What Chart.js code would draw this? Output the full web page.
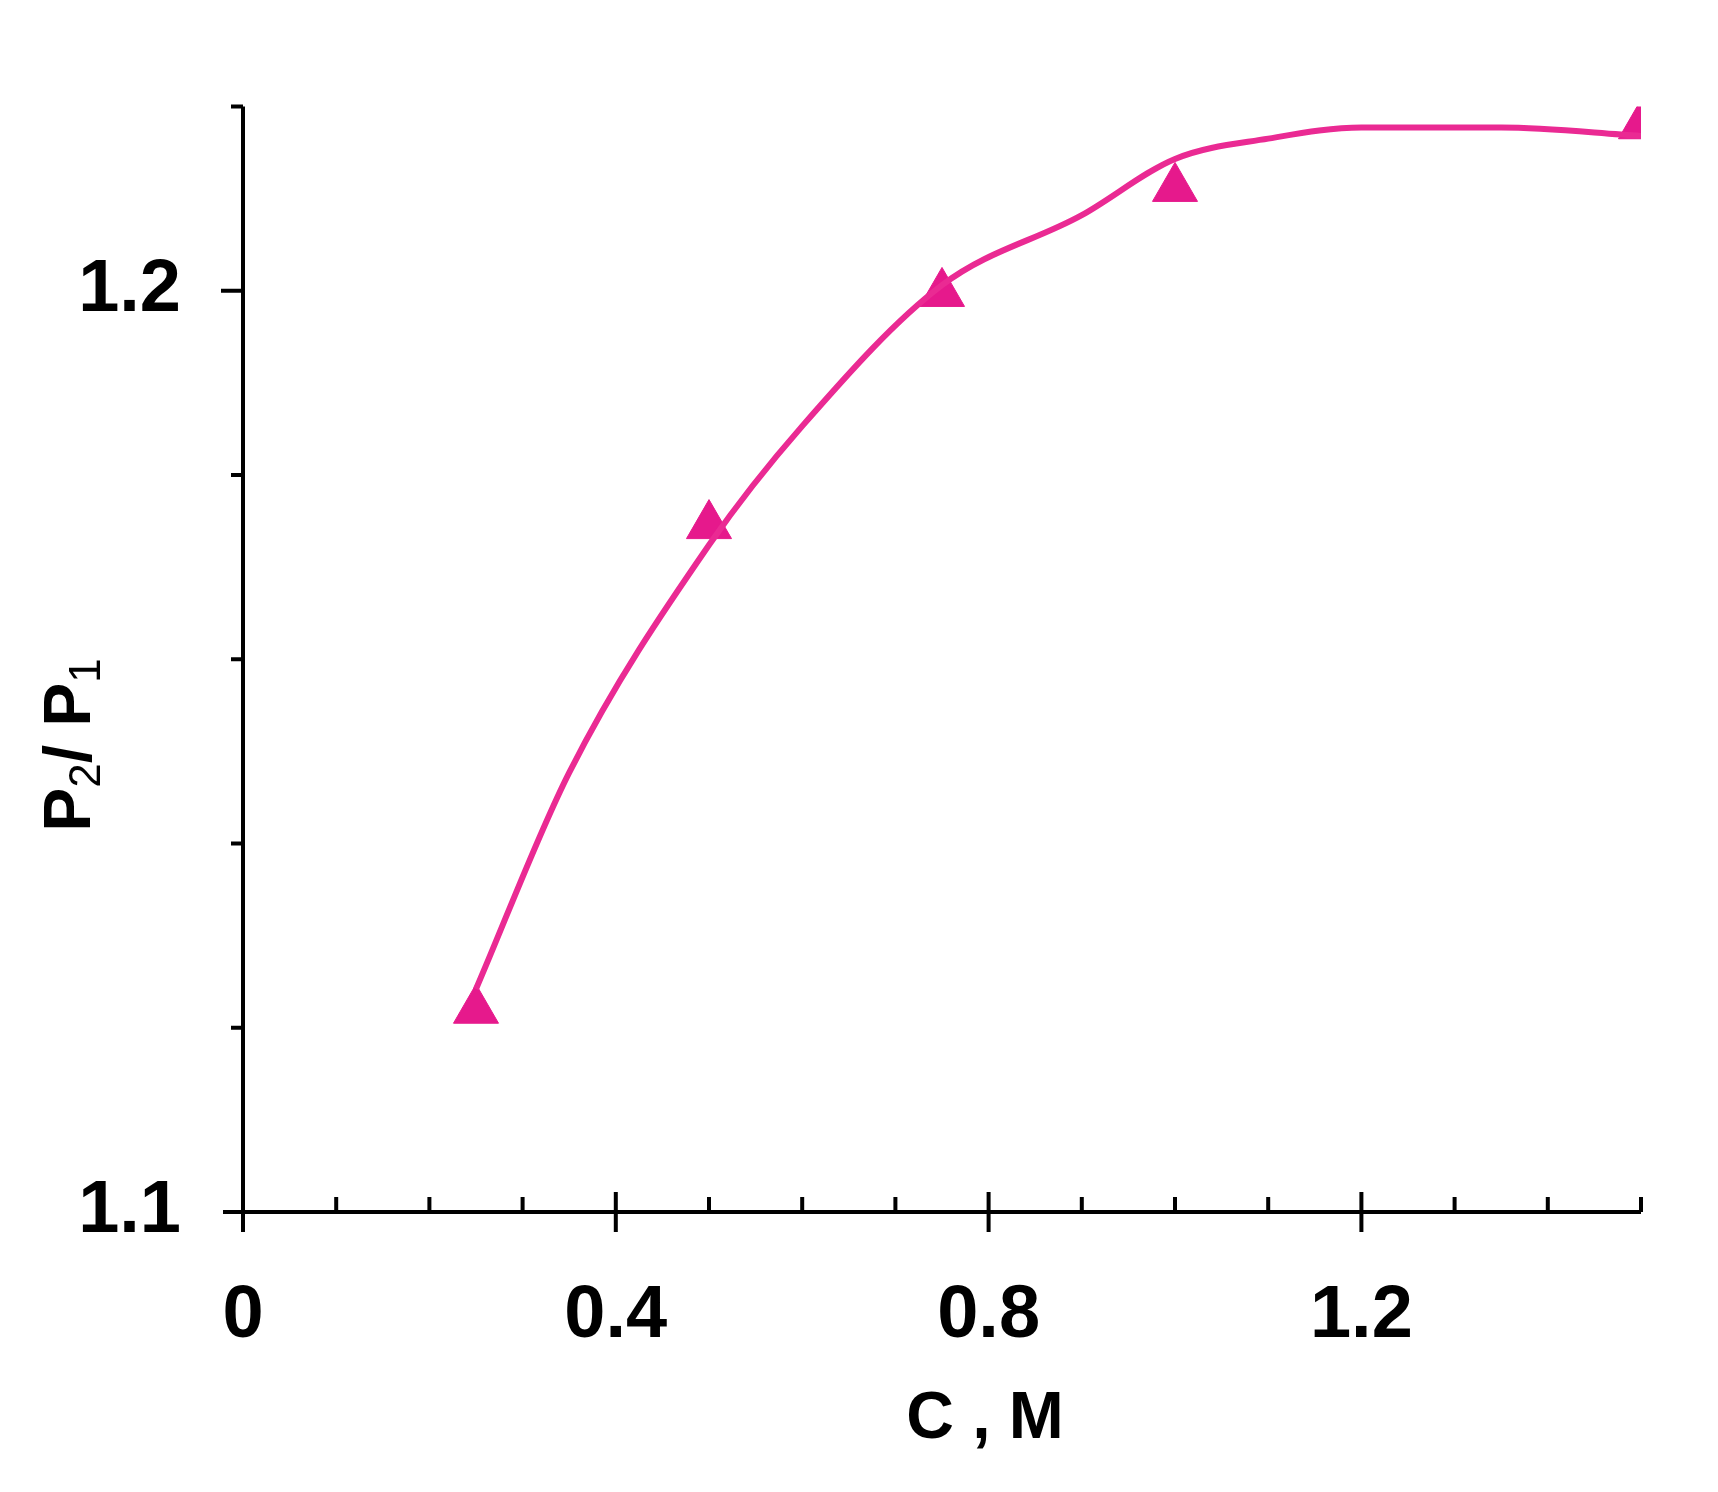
<!DOCTYPE html>
<html>
<head>
<meta charset="utf-8">
<script src="https://cdn.jsdelivr.net/npm/chart.js@4/dist/chart.umd.min.js"></script>
<style>
  html, body { margin: 0; padding: 0; background: #fff; }
  #wrap { width: 1718px; height: 1492px; }
</style>
</head>
<body>
<div id="wrap"><canvas id="chart"></canvas></div>
<script>
// measured points
const concX = [0.25, 0.5, 0.75, 1.0, 1.5];
const ratioY = [1.1219, 1.1745, 1.1997, 1.2111, 1.2179];
// fitted curve
const fitX = [0.25, 0.35, 0.5, 0.6, 0.75, 0.9, 1.0, 1.1, 1.2, 1.35, 1.5];
const fitY = [1.1242, 1.1477, 1.1724, 1.1853, 1.2006, 1.2082, 1.2143, 1.2165, 1.2177, 1.2177, 1.2168];
const xLabels = { 0: '0', 0.4: '0.4', 0.8: '0.8', 1.2: '1.2' };
const yLabels = { 1.1: '1.1', 1.2: '1.2' };

const pink = '#ea2a93';
const font = 'bold 74px "Liberation Sans", Arial, sans-serif';

const tickPlugin = {
  id: 'ticksAndTitles',
  afterDraw: (chart) => {
    const ctx = chart.ctx;
    const xs = chart.scales.x, ys = chart.scales.y;
    const x0 = xs.getPixelForValue(0), y0 = ys.getPixelForValue(1.1);
    ctx.save();
    ctx.strokeStyle = '#000';
    ctx.lineWidth = 4;
    ctx.beginPath();
    // axes
    ctx.moveTo(x0 - 20, y0); ctx.lineTo(xs.getPixelForValue(1.5), y0);
    ctx.moveTo(x0, ys.getPixelForValue(1.22)); ctx.lineTo(x0, y0 + 20);
    for (let i = 1; i <= 15; i++) {
      const px = xs.getPixelForValue(i / 10);
      if (i % 4 === 0) { ctx.moveTo(px, y0 - 20); ctx.lineTo(px, y0 + 20); }
      else { ctx.moveTo(px, y0 - 15); ctx.lineTo(px, y0); }
    }
    for (let i = 1; i <= 6; i++) {
      const py = ys.getPixelForValue(1.1 + i * 0.02);
      if (i === 5) { ctx.moveTo(x0 - 22, py); ctx.lineTo(x0, py); }
      else { ctx.moveTo(x0 - 12, py); ctx.lineTo(x0, py); }
    }
    ctx.stroke();

    ctx.fillStyle = '#000';
    ctx.font = 'bold 66px "Liberation Sans", Arial, sans-serif';
    ctx.textAlign = 'center';
    ctx.textBaseline = 'middle';
    ctx.fillText('C , M', 985, 1420);

    // y title with subscripts
    ctx.translate(72, 745);
    ctx.rotate(-Math.PI / 2);
    const big = 'bold 66px "Liberation Sans", Arial, sans-serif';
    const small = '44px "Liberation Sans", Arial, sans-serif';
    const parts = [['P', big, 0], ['2', small, 16], ['/ P', big, 0], ['1', small, 16]];
    let w = 0;
    parts.forEach(p => { ctx.font = p[1]; w += ctx.measureText(p[0]).width; });
    let cx = -w / 2;
    ctx.textAlign = 'left';
    parts.forEach(p => { ctx.font = p[1]; ctx.fillText(p[0], cx, p[2]); cx += ctx.measureText(p[0]).width; });
    ctx.restore();
  }
};

new Chart(document.getElementById('chart'), {
  type: 'scatter',
  data: {
    datasets: [{
      data: fitX.map((x, i) => ({ x: x, y: fitY[i] })),
      showLine: true,
      borderColor: pink,
      borderWidth: 6,
      pointRadius: 0,
      cubicInterpolationMode: 'monotone'
    }, {
      data: concX.map((x, i) => ({ x: x, y: ratioY[i] })),
      pointStyle: 'triangle',
      pointRadius: 26,
      backgroundColor: '#e6198c',
      borderColor: '#e6198c',
      borderWidth: 1
    }]
  },
  options: {
    responsive: true,
    maintainAspectRatio: false,
    animation: false,
    layout: { padding: { top: 94, right: 77, left: 0, bottom: 0 } },
    plugins: { legend: { display: false }, tooltip: { enabled: false } },
    scales: {
      x: {
        type: 'linear', min: 0, max: 1.5,
        grid: { display: false, drawTicks: false },
        border: { display: false },
        afterFit: (s) => { s.height = 280; },
        afterBuildTicks: (s) => { s.ticks = [0, 0.4, 0.8, 1.2].map(v => ({ value: v })); },
        ticks: {
          padding: 60,
          color: '#000',
          font: { size: 74, weight: 'bold', family: '"Liberation Sans", Arial, sans-serif' },
          callback: (v) => xLabels[Math.round(v * 10) / 10] || ''
        }
      },
      y: {
        type: 'linear', min: 1.1, max: 1.22,
        grid: { display: false, drawTicks: false },
        border: { display: false },
        afterFit: (s) => { s.width = 243; },
        afterBuildTicks: (s) => { s.ticks = [1.1, 1.2].map(v => ({ value: v })); },
        ticks: {
          padding: 62,
          color: '#000',
          font: { size: 74, weight: 'bold', family: '"Liberation Sans", Arial, sans-serif' },
          callback: (v) => yLabels[Math.round(v * 10) / 10] || ''
        }
      }
    }
  },
  plugins: [tickPlugin]
});
</script>
</body>
</html>
